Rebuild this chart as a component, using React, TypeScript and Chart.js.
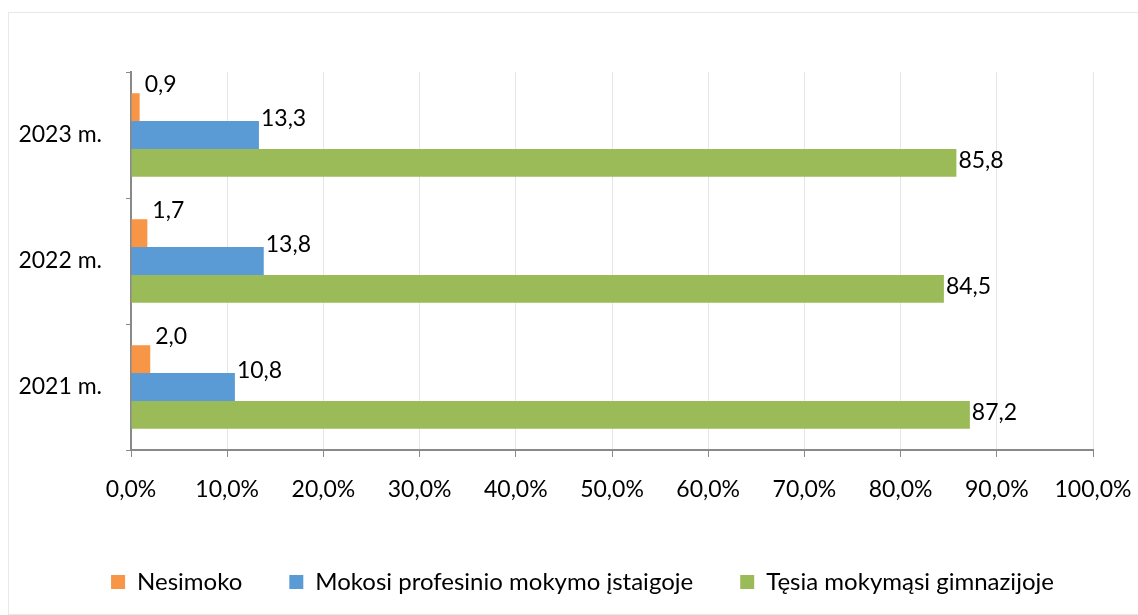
import React, { useEffect, useRef } from "react";
import { Chart, registerables } from "chart.js";

Chart.register(...registerables);

const categories = ["2023 m.", "2022 m.", "2021 m."];
const seriesNames = ["Nesimoko", "Mokosi profesinio mokymo įstaigoje", "Tęsia mokymąsi gimnazijoje"];
const nesimoko = [0.9, 1.7, 2.0];
const profesinis = [13.3, 13.8, 10.8];
const gimnazija = [85.8, 84.5, 87.2];
const seriesColors = ["#F79646", "#5B9BD5", "#9BBB59"];
const xTicksMax = 100;
const xTicksStep = 10;

const FONT = "Lato, 'Open Sans', sans-serif";
const FS = 23;
const labelOffsets = [
  { dx: 5, dy: -23 },
  { dx: 2, dy: -16 },
  { dx: 2, dy: -2 },
];

const fmt = (v: number) => v.toFixed(1).replace(".", ",");

const dataLabels = {
  id: "dataLabels",
  afterDatasetsDraw(chart: any) {
    const ctx = chart.ctx;
    ctx.save();
    ctx.font = `${FS}px ${FONT}`;
    ctx.fillStyle = "#000";
    ctx.textAlign = "left";
    ctx.textBaseline = "middle";
    chart.data.datasets.forEach((ds: any, di: number) => {
      const meta = chart.getDatasetMeta(di);
      meta.data.forEach((bar: any, i: number) => {
        const o = labelOffsets[di];
        ctx.fillText(fmt(ds.data[i]), bar.x + o.dx, bar.y + o.dy);
      });
    });
    ctx.restore();
  },
};

const legendShift = {
  id: "legendShift",
  afterLayout(chart: any) {
    const lg = chart.legend;
    if (lg) {
      lg.left += 36;
      lg.right += 36;
    }
  },
};

export default function App() {
  const ref = useRef<HTMLCanvasElement>(null);
  useEffect(() => {
    if (!ref.current) return;
    const chart = new Chart(ref.current, {
      type: "bar",
      data: {
        labels: categories,
        datasets: [nesimoko, profesinis, gimnazija].map((d, i) => ({
          label: seriesNames[i],
          data: d,
          backgroundColor: seriesColors[i],
          borderWidth: 0,
          categoryPercentage: 0.663,
          barPercentage: 1,
        })),
      },
      options: {
        indexAxis: "y",
        responsive: false,
        animation: false,
        layout: { padding: { top: 72, right: 45, left: 0, bottom: 11 } },
        scales: {
          x: {
            min: 0,
            max: xTicksMax,
            ticks: {
              stepSize: xTicksStep,
              color: "#000",
              font: { family: FONT, size: FS },
              padding: 19,
              maxRotation: 0,
              callback: (v: any) => fmt(Number(v)) + "%",
            },
            grid: { color: "#e6e6e6", tickColor: "#898989", tickLength: 7, lineWidth: 1 },
            border: { color: "#898989", width: 2 },
            afterFit: (s: any) => {
              s.height = 73;
              s.paddingLeft = 0;
              s.paddingRight = 0;
            },
          },
          y: {
            ticks: { color: "#000", font: { family: FONT, size: FS }, padding: 24 },
            grid: { drawOnChartArea: false, tickColor: "#898989", tickLength: 5, offset: true },
            border: { color: "#898989", width: 2 },
            afterFit: (s: any) => { s.width = 131; },
          },
        },
        plugins: {
          legend: {
            position: "bottom",
            labels: {
              boxWidth: 14,
              boxHeight: 14,
              padding: 47,
              color: "#000",
              font: { family: FONT, size: 24 },
            },
          },
          tooltip: { enabled: false },
        },
      },
      plugins: [dataLabels, legendShift],
    });
    return () => chart.destroy();
  }, []);
  return (
    <div style={{ position: "fixed", left: 0, top: 0, width: 1138, height: 615, background: "#fff", overflow: "hidden" }}>
      <div style={{ position: "absolute", left: 8, top: 12, width: 1160, height: 601, border: "1px solid #e8e8e8" }} />
      <canvas ref={ref} width={1138} height={615} style={{ position: "absolute", left: 0, top: 0, width: 1138, height: 615 }} />
    </div>
  );
}
